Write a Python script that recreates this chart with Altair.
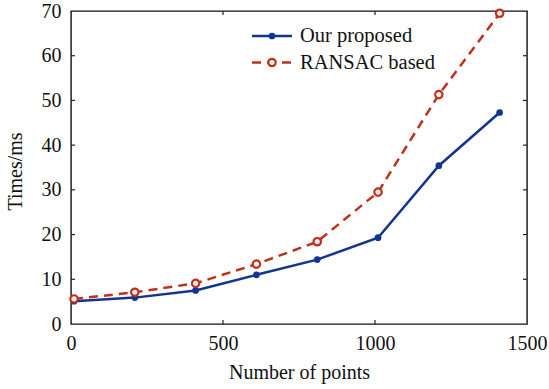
import altair as alt
import pandas as pd

# ---- data ----
n_points = [10, 210, 410, 610, 810, 1010, 1210, 1410]
ours = [5.1, 5.9, 7.5, 11.0, 14.4, 19.3, 35.4, 47.3]
ransac = [5.6, 7.1, 9.1, 13.4, 18.4, 29.5, 51.3, 69.5]
series_names = ["Our proposed", "RANSAC based"]
x_tick_values = [0, 500, 1000, 1500]
y_tick_values = [0, 10, 20, 30, 40, 50, 60, 70]
x_inner_ticks = [500, 1000]
y_inner_ticks = [10, 20, 30, 40, 50, 60]

W, H = 456, 313
BLUE = "#12358f"
RED = "#c0301a"
FONT = "Liberation Serif"

df_ours = pd.DataFrame({"n": n_points, "t": ours})
df_ransac = pd.DataFrame({"n": n_points, "t": ransac})

xs = alt.Scale(domain=[0, 1500], nice=False, zero=False)
ys = alt.Scale(domain=[0, 70], nice=False, zero=False)

x_axis = alt.Axis(values=x_tick_values, title="Number of points", grid=False,
                  ticks=False, domain=False, labelPadding=9, labelFontSize=20,
                  titleFontSize=20, titleFontWeight="normal", labelFont=FONT,
                  titleFont=FONT, labelColor="#111", titleColor="#111",
                  titlePadding=9, labelFlush=False, format="d")
y_axis = alt.Axis(values=y_tick_values, title="Times/ms", grid=False,
                  ticks=False, domain=False, labelPadding=10, labelFontSize=20,
                  titleFontSize=20, titleFontWeight="normal", labelFont=FONT,
                  titleFont=FONT, labelColor="#111", titleColor="#111",
                  titleX=-46, titleY=160, format="d")


def X(field):
    return alt.X(f"{field}:Q", scale=xs, axis=x_axis)


def Y(field):
    return alt.Y(f"{field}:Q", scale=ys, axis=y_axis)


blue_line = alt.Chart(df_ours).mark_line(color=BLUE, strokeWidth=2.5).encode(
    x=X("n"), y=Y("t"))
blue_pts = alt.Chart(df_ours).mark_point(
    shape="circle", filled=True, color=BLUE, size=45, opacity=1
).encode(x=X("n"), y=Y("t"))

red_line = alt.Chart(df_ransac).mark_line(
    color=RED, strokeWidth=2.5, strokeDash=[9, 6]
).encode(x=X("n"), y=Y("t"))
red_pts = alt.Chart(df_ransac).mark_point(
    shape="circle", filled=True, fill="#fff4ec", stroke=RED, strokeWidth=2.2,
    size=55, opacity=1
).encode(x=X("n"), y=Y("t"))

# inward ticks on all four sides
df_xt = pd.DataFrame({"n": x_inner_ticks})
df_yt = pd.DataFrame({"t": y_inner_ticks})
tick_style = dict(color="#222", strokeWidth=1.2)
xt_bottom = alt.Chart(df_xt).mark_rule(**tick_style).encode(
    x=X("n"), y=alt.value(H), y2=alt.value(H - 4))
xt_top = alt.Chart(df_xt).mark_rule(**tick_style).encode(
    x=X("n"), y=alt.value(0), y2=alt.value(4))
yt_left = alt.Chart(df_yt).mark_rule(**tick_style).encode(
    y=Y("t"), x=alt.value(0), x2=alt.value(4))
yt_right = alt.Chart(df_yt).mark_rule(**tick_style).encode(
    y=Y("t"), x=alt.value(W), x2=alt.value(W - 4))

# manual legend
one = pd.DataFrame({"k": [0]})
LX0, LX1, LMX, LTX = 181, 221, 201, 229
LY = [25, 51.5]
leg_blue_line = alt.Chart(one).mark_rule(color=BLUE, strokeWidth=2.5).encode(
    x=alt.value(LX0), x2=alt.value(LX1), y=alt.value(LY[0]))
leg_blue_pt = alt.Chart(one).mark_point(
    shape="circle", filled=True, color=BLUE, size=45, opacity=1
).encode(x=alt.value(LMX), y=alt.value(LY[0]))
leg_blue_txt = alt.Chart(one).mark_text(
    align="left", baseline="middle", font=FONT, fontSize=20.5, color="#111"
).encode(x=alt.value(LTX), y=alt.value(LY[0]), text=alt.value(series_names[0]))
leg_red_line = alt.Chart(one).mark_rule(
    color=RED, strokeWidth=2.5, strokeDash=[9, 6]).encode(
    x=alt.value(LX0), x2=alt.value(LX1), y=alt.value(LY[1]))
leg_red_pt = alt.Chart(one).mark_point(
    shape="circle", filled=True, fill="#fff4ec", stroke=RED, strokeWidth=2.2,
    size=55, opacity=1
).encode(x=alt.value(LMX), y=alt.value(LY[1]))
leg_red_txt = alt.Chart(one).mark_text(
    align="left", baseline="middle", font=FONT, fontSize=20.5, color="#111"
).encode(x=alt.value(LTX), y=alt.value(LY[1]), text=alt.value(series_names[1]))

chart = alt.layer(
    blue_line, red_line, blue_pts, red_pts,
    xt_bottom, xt_top, yt_left, yt_right,
    leg_blue_line, leg_blue_pt, leg_blue_txt,
    leg_red_line, leg_red_pt, leg_red_txt,
).properties(
    width=W, height=H,
    padding={"left": 71, "top": 11, "right": 22, "bottom": 65},
    autosize=alt.AutoSizeParams(type="none"),
    background="white",
).configure_view(stroke="#111", strokeWidth=1.4)

chart.save("out.html", embed_options={"renderer": "svg", "actions": False})
